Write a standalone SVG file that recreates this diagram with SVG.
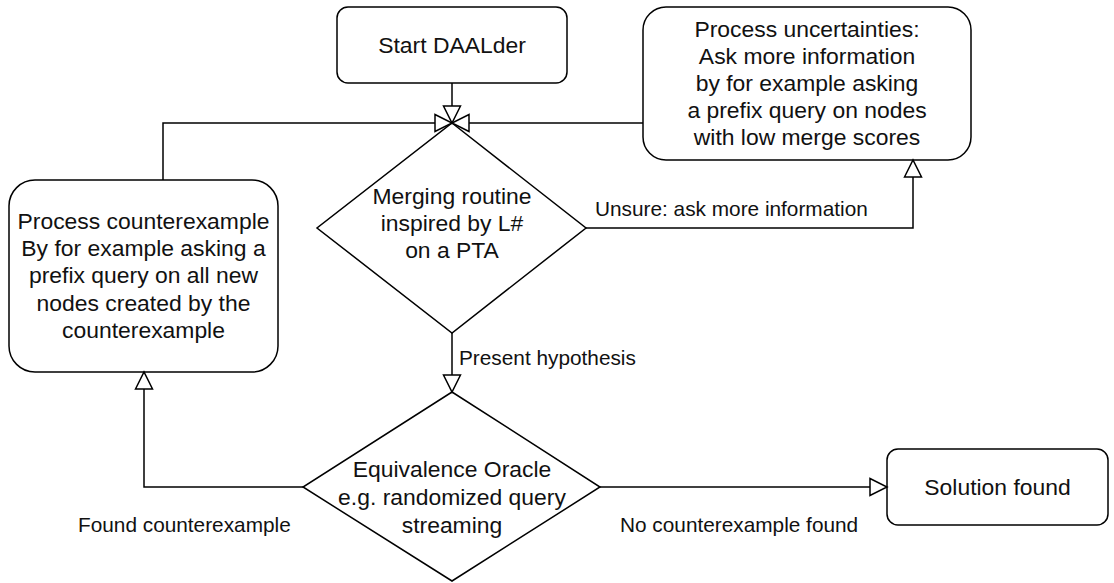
<svg xmlns="http://www.w3.org/2000/svg" width="1114" height="583" viewBox="0 0 1114 583">
<style>
.n{fill:#fff;stroke:#000;stroke-width:1.5}
.c{fill:none;stroke:#000;stroke-width:1.5}
.t{font-family:"Liberation Sans",Arial,sans-serif;font-size:22.9px;fill:#111;text-anchor:middle}
.l{font-family:"Liberation Sans",Arial,sans-serif;font-size:20.8px;fill:#111}
</style>
<defs>
<marker id="a" markerUnits="userSpaceOnUse" markerWidth="22" markerHeight="22" refX="17" refY="8.5" orient="auto" style="overflow:visible">
<path d="M0,0 L17,8.5 L0,17 Z" fill="#fff" stroke="#000" stroke-width="1.5"/>
</marker>
</defs>
<rect width="1114" height="583" fill="#fff"/>
<g id="start"><rect class="n" x="337" y="7" width="230" height="76" rx="11"/><text class="t" x="452" y="53">Start DAALder</text></g>
<g id="uncertain"><rect class="n" x="643" y="7" width="328" height="153" rx="23"/>
<text class="t" x="807" y="37">Process uncertainties:</text>
<text class="t" x="807" y="64">Ask more information</text>
<text class="t" x="807" y="91">by for example asking</text>
<text class="t" x="807" y="118">a prefix query on nodes</text>
<text class="t" x="807" y="145">with low merge scores</text></g>
<g id="counter"><rect class="n" x="9" y="180" width="269" height="192" rx="26"/>
<text class="t" x="143.5" y="229">Process counterexample</text>
<text class="t" x="143.5" y="256">By for example asking a</text>
<text class="t" x="143.5" y="283">prefix query on all new</text>
<text class="t" x="143.5" y="311">nodes created by the</text>
<text class="t" x="143.5" y="338">counterexample</text></g>
<g id="merge"><polygon class="n" points="452,123 586,228 452,333 317,228"/>
<text class="t" x="452" y="204">Merging routine</text>
<text class="t" x="452" y="231">inspired by L#</text>
<text class="t" x="452" y="258">on a PTA</text></g>
<g id="oracle"><polygon class="n" points="452,392 600,487 452,581 303,487"/>
<text class="t" x="452" y="477">Equivalence Oracle</text>
<text class="t" x="452" y="505">e.g. randomized query</text>
<text class="t" x="452" y="533">streaming</text></g>
<g id="solution"><rect class="n" x="887" y="449" width="221" height="76" rx="11"/><text class="t" x="997.5" y="495">Solution found</text></g>
<g id="connectors">
<path class="c" d="M452,83 V123" marker-end="url(#a)"/>
<path class="c" d="M163,180 V123 H452" marker-end="url(#a)"/>
<path class="c" d="M643,123 H452" marker-end="url(#a)"/>
<path class="c" d="M586,228 H913 V160" marker-end="url(#a)"/>
<path class="c" d="M452,333 V392" marker-end="url(#a)"/>
<path class="c" d="M600,487 H887" marker-end="url(#a)"/>
<path class="c" d="M303,487 H144 V372" marker-end="url(#a)"/>
<text class="l" x="595" y="216">Unsure: ask more information</text>
<text class="l" x="459" y="365">Present hypothesis</text>
<text class="l" x="78" y="532">Found counterexample</text>
<text class="l" x="620" y="532">No counterexample found</text>
</g>
</svg>
